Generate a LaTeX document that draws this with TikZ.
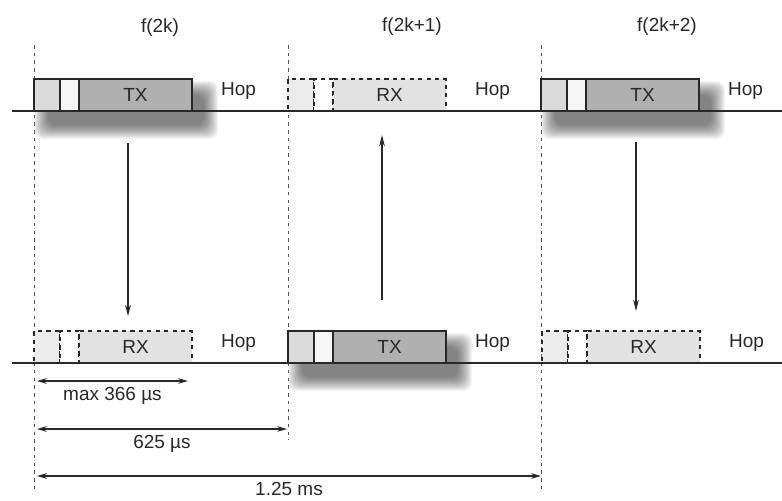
\documentclass[tikz,border=0pt]{standalone}
\usepackage{fontspec}
\setmainfont{Liberation Sans}
\usetikzlibrary{arrows.meta, positioning, calc, backgrounds}
\definecolor{txgray}{RGB}{176,176,176}
\definecolor{rxgray}{RGB}{226,226,226}
\definecolor{guardgray}{RGB}{218,218,218}
\definecolor{guardpale}{RGB}{246,246,246}
\definecolor{inkgray}{RGB}{40,40,40}
\tikzset{
  slotpart/.style={rectangle, draw=inkgray, line width=0.8pt,
    inner sep=0pt, outer sep=0pt, minimum height=0.8cm,
    font=\fontsize{13.5}{15}\selectfont, text=inkgray},
  guardA/.style={slotpart, fill=guardgray, minimum width=0.65cm},
  guardB/.style={slotpart, fill=guardpale, minimum width=0.475cm},
  txbody/.style={slotpart, fill=txgray, minimum width=2.825cm},
  rxA/.style={guardA, dashed, fill=rxgray!70},
  rxB/.style={guardB, dashed, fill=white},
  rxbody/.style={slotpart, dashed, fill=rxgray, minimum width=2.825cm},
  hoplbl/.style={font=\fontsize{13.5}{15}\selectfont, text=inkgray,
    inner sep=2pt, yshift=3pt},
  freqlbl/.style={font=\fontsize{13.5}{15}\selectfont, text=inkgray},
  slotline/.style={line width=1.4pt, color=inkgray},
  guide/.style={dash pattern=on 2.5pt off 3pt, line width=0.7pt, color=gray!70!black},
  dirarrow/.style={-{Stealth[length=8pt,width=4pt]}, line width=0.8pt, color=inkgray},
  span/.style={{Stealth[length=7pt,width=4pt]}-{Stealth[length=7pt,width=4pt]},
    line width=0.9pt, color=inkgray},
  spanlbl/.style={below, font=\fontsize{13.5}{15}\selectfont, text=inkgray, inner sep=4pt}
}
\begin{document}
\begin{tikzpicture}[x=0.025cm, y=-0.025cm, node distance=0.65cm]
  \useasboundingbox (0,0) rectangle (782,500);

  % slot boundaries
  \coordinate (v1t) at (34,45);  \coordinate (v1b) at (34,490);
  \coordinate (v2t) at (288,45); \coordinate (v2b) at (288,440);
  \coordinate (v3t) at (541,45); \coordinate (v3b) at (541,490);
  \draw[guide] (v1t) -- (v1b);
  \draw[guide] (v2t) -- (v2b);
  \draw[guide] (v3t) -- (v3b);

  \node[freqlbl] (f0) at (160,28) {f(2k)};
  \node[freqlbl] (f1) at (412,27) {f(2k+1)};
  \node[freqlbl] (f2) at (667,27) {f(2k+2)};

  % master (top row)
  \node[guardA, anchor=south west] (ta1) at (34,111) {};
  \node[guardB, right=0pt of ta1] (tb1) {};
  \node[txbody, right=0pt of tb1] (tc1) {TX};
  \node[hoplbl, right=of tc1] (th1) {Hop};

  \node[rxA, anchor=south west] (ta2) at (288,111) {};
  \node[rxB, right=0pt of ta2] (tb2) {};
  \node[rxbody, right=0pt of tb2] (tc2) {RX};
  \node[hoplbl, right=of tc2] (th2) {Hop};

  \node[guardA, anchor=south west] (ta3) at (541,111) {};
  \node[guardB, right=0pt of ta3] (tb3) {};
  \node[txbody, right=0pt of tb3] (tc3) {TX};
  \node[hoplbl, right=of tc3] (th3) {Hop};

  % slave (bottom row)
  \node[rxA, anchor=south west] (ba1) at (34,363) {};
  \node[rxB, right=0pt of ba1] (bb1) {};
  \node[rxbody, right=0pt of bb1] (bc1) {RX};
  \node[hoplbl, right=of bc1] (bh1) {Hop};

  \node[guardA, anchor=south west] (ba2) at (288,363) {};
  \node[guardB, right=0pt of ba2] (bb2) {};
  \node[txbody, right=0pt of bb2] (bc2) {TX};
  \node[hoplbl, right=of bc2] (bh2) {Hop};

  \node[rxA, anchor=south west] (ba3) at (542,363) {};
  \node[rxB, right=0pt of ba3] (bb3) {};
  \node[rxbody, right=0pt of bb3] (bc3) {RX};
  \node[hoplbl, right=of bc3] (bh3) {Hop};

  % soft shadows under the TX slots
  \begin{scope}[on background layer]
    \foreach \s/\e in {ta1/tc1, ta3/tc3, ba2/bc2}
      \foreach \d in {0,1,...,14}
        \fill[black, opacity=0.045, rounded corners=6]
          ($(\s.north west)+(0+\d,2+\d)$) rectangle ($(\e.south east)+(26-\d,28-\d)$);
  \end{scope}

  % time axes
  \coordinate (topL) at (12,111); \coordinate (topR) at (782,111);
  \coordinate (botL) at (12,363); \coordinate (botR) at (782,363);
  \draw[slotline] (topL) -- (topR);
  \draw[slotline] (botL) -- (botR);

  % direction of each slot
  \coordinate (d1s) at (128,143); \coordinate (d1e) at (128,316);
  \coordinate (d2s) at (382,300); \coordinate (d2e) at (382,135);
  \coordinate (d3s) at (636,142); \coordinate (d3e) at (636,311);
  \draw[dirarrow] (d1s) -- (d1e);
  \draw[dirarrow] (d2s) -- (d2e);
  \draw[dirarrow] (d3s) -- (d3e);

  % durations
  \coordinate (s1l) at (37,381); \coordinate (s1r) at (188,381);
  \coordinate (s2l) at (37,429); \coordinate (s2r) at (287,429);
  \coordinate (s3l) at (37,476); \coordinate (s3r) at (541,476);
  \draw[span] (s1l) -- node[spanlbl] {max 366 µs} (s1r);
  \draw[span] (s2l) -- node[spanlbl] {625 µs} (s2r);
  \draw[span] (s3l) -- node[spanlbl] {1.25 ms} (s3r);
\end{tikzpicture}
\end{document}
